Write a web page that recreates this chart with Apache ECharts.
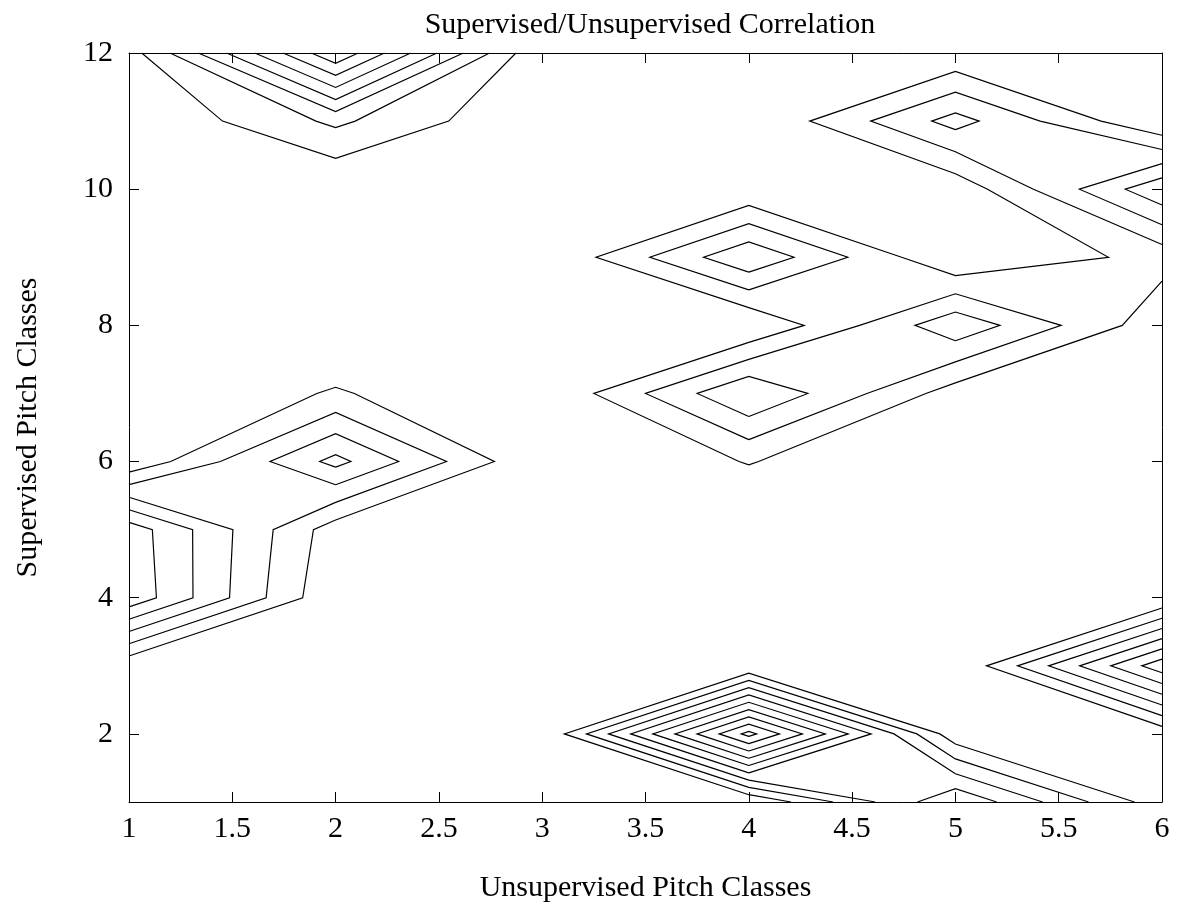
<!DOCTYPE html>
<html>
<head>
<meta charset="utf-8">
<title>Supervised/Unsupervised Correlation</title>
<script src="https://cdn.jsdelivr.net/npm/echarts@6/dist/echarts.min.js"></script>
<style>
  html, body { margin: 0; padding: 0; background: #fff; }
  #chart { width: 1181px; height: 907px; }
</style>
</head>
<body>
<div id="chart"></div>
<script>
// grid positions: unsupervised classes on x, supervised classes on y
const unsupClasses = [1, 2, 3, 4, 5, 6];
const supClasses = [1, 2, 3, 4, 5, 6, 7, 8, 9, 10, 11, 12];
const xTicks = [1, 1.5, 2, 2.5, 3, 3.5, 4, 4.5, 5, 5.5, 6];
const yTicks = [2, 4, 6, 8, 10, 12];
const levels = [0.1, 0.2, 0.3, 0.4, 0.5, 0.6, 0.7, 0.8, 0.9];

// correlation values, one row per supervised class (1..12), columns = unsupervised 1..6
const corr = [
  [0,     0,     0, 0,     0.49,  0.04],
  [0,     0,     0, 0.934, 0.032, 0.03],
  [0.02,  0,     0, 0,     0,     0.665],
  [0.575, 0.01,  0, 0,     0,     0],
  [0.558, 0.045, 0, 0,     0,     0],
  [0.016, 0.432, 0, 0.105, 0,     0],
  [0,     0.11,  0, 0.40,  0.05,  0],
  [0,     0,     0, 0,     0.373, 0.035],
  [0,     0,     0, 0.384, 0,     0.135],
  [0,     0,     0, 0.011, 0.03,  0.48],
  [0,     0.221, 0, 0,     0.339, 0],
  [0.055, 0.786, 0, 0,     0.011, 0]
];

function crossPoint(level, x0, y0, z0, x1, y1, z1) {
  const t = (level - z0) / (z1 - z0);
  return [x0 + t * (x1 - x0), y0 + t * (y1 - y0)];
}

// marching squares, saddles decided by the cell mean
function contourLines(level) {
  const nx = unsupClasses.length, ny = supClasses.length;
  const pts = {};
  const links = {};
  function link(a, b) {
    (links[a] = links[a] || []).push(b);
    (links[b] = links[b] || []).push(a);
  }
  for (let j = 0; j < ny - 1; j++) {
    for (let i = 0; i < nx - 1; i++) {
      const x0 = unsupClasses[i], x1 = unsupClasses[i + 1];
      const y0 = supClasses[j], y1 = supClasses[j + 1];
      const z00 = corr[j][i], z10 = corr[j][i + 1];
      const z01 = corr[j + 1][i], z11 = corr[j + 1][i + 1];
      const edges = {
        B: ['h' + i + '_' + j, x0, y0, z00, x1, y0, z10],
        R: ['v' + (i + 1) + '_' + j, x1, y0, z10, x1, y1, z11],
        T: ['h' + i + '_' + (j + 1), x0, y1, z01, x1, y1, z11],
        L: ['v' + i + '_' + j, x0, y0, z00, x0, y1, z01]
      };
      const cut = [];
      ['B', 'R', 'T', 'L'].forEach(k => {
        const e = edges[k];
        if ((e[3] >= level) !== (e[6] >= level)) {
          cut.push(k);
          if (!pts[e[0]]) pts[e[0]] = crossPoint(level, e[1], e[2], e[3], e[4], e[5], e[6]);
        }
      });
      if (cut.length === 2) {
        link(edges[cut[0]][0], edges[cut[1]][0]);
      } else if (cut.length === 4) {
        const centreHigh = (z00 + z10 + z01 + z11) / 4 >= level;
        const diagHigh = z00 >= level;
        const pairs = diagHigh === centreHigh ? [['B', 'R'], ['T', 'L']] : [['B', 'L'], ['R', 'T']];
        pairs.forEach(p => link(edges[p[0]][0], edges[p[1]][0]));
      }
    }
  }
  // chain the segments, open ends first
  const used = {};
  const out = [];
  const keys = Object.keys(links);
  const starts = keys.filter(k => links[k].length === 1).concat(keys);
  starts.forEach(s => {
    if (used[s]) return;
    const path = [s];
    used[s] = true;
    let cur = s;
    for (;;) {
      const next = links[cur].find(k => !used[k]);
      if (!next) break;
      used[next] = true;
      path.push(next);
      cur = next;
    }
    if (path.length > 2 && links[cur].indexOf(s) >= 0) path.push(s);
    out.push(path.map(k => pts[k]));
  });
  return out;
}

const contourData = [];
levels.forEach(lv => {
  contourLines(lv).forEach(p => contourData.push({ coords: p }));
});

const font = '"Liberation Serif", "Times New Roman", serif';
const labelStyle = { color: '#000', fontFamily: font, fontSize: 30 };

const chart = echarts.init(document.getElementById('chart'));
chart.setOption({
  animation: false,
  backgroundColor: '#fff',
  title: {
    text: 'Supervised/Unsupervised Correlation',
    left: 645,
    top: 5,
    textAlign: 'center',
    textStyle: { color: '#000', fontFamily: font, fontSize: 30, fontWeight: 'normal' }
  },
  grid: { left: 129, right: 19, top: 53, bottom: 105, outerBoundsMode: 'none' },
  xAxis: [{
    type: 'value',
    min: 1,
    max: 6,
    interval: 0.5,
    name: 'Unsupervised Pitch Classes',
    nameLocation: 'middle',
    nameGap: 71,
    nameTextStyle: labelStyle,
    axisLine: { show: true, lineStyle: { color: '#000', width: 1 } },
    axisTick: { show: true, inside: true, length: 10, customValues: xTicks, lineStyle: { color: '#000' } },
    axisLabel: { margin: 12, customValues: xTicks, ...labelStyle },
    splitLine: { show: false }
  }, {
    type: 'value',
    position: 'top',
    min: 1,
    max: 6,
    interval: 0.5,
    axisLine: { show: true, lineStyle: { color: '#000', width: 1 } },
    axisTick: { show: true, inside: true, length: 10, customValues: xTicks, lineStyle: { color: '#000' } },
    axisLabel: { show: false },
    splitLine: { show: false }
  }],
  yAxis: [{
    type: 'value',
    min: 1,
    max: 12,
    name: 'Supervised Pitch Classes',
    nameLocation: 'middle',
    nameGap: 86,
    nameTextStyle: labelStyle,
    axisLine: { show: true, lineStyle: { color: '#000', width: 1 } },
    axisTick: { show: true, inside: true, length: 10, customValues: yTicks, lineStyle: { color: '#000' } },
    axisLabel: { margin: 16, customValues: yTicks, ...labelStyle },
    splitLine: { show: false }
  }, {
    type: 'value',
    position: 'right',
    min: 1,
    max: 12,
    axisLine: { show: true, lineStyle: { color: '#000', width: 1 } },
    axisTick: { show: true, inside: true, length: 10, customValues: yTicks, lineStyle: { color: '#000' } },
    axisLabel: { show: false },
    splitLine: { show: false }
  }],
  series: [{
    type: 'lines',
    coordinateSystem: 'cartesian2d',
    polyline: true,
    silent: true,
    data: contourData,
    lineStyle: { color: '#000', width: 1.2, opacity: 1 }
  }]
});
</script>
</body>
</html>
